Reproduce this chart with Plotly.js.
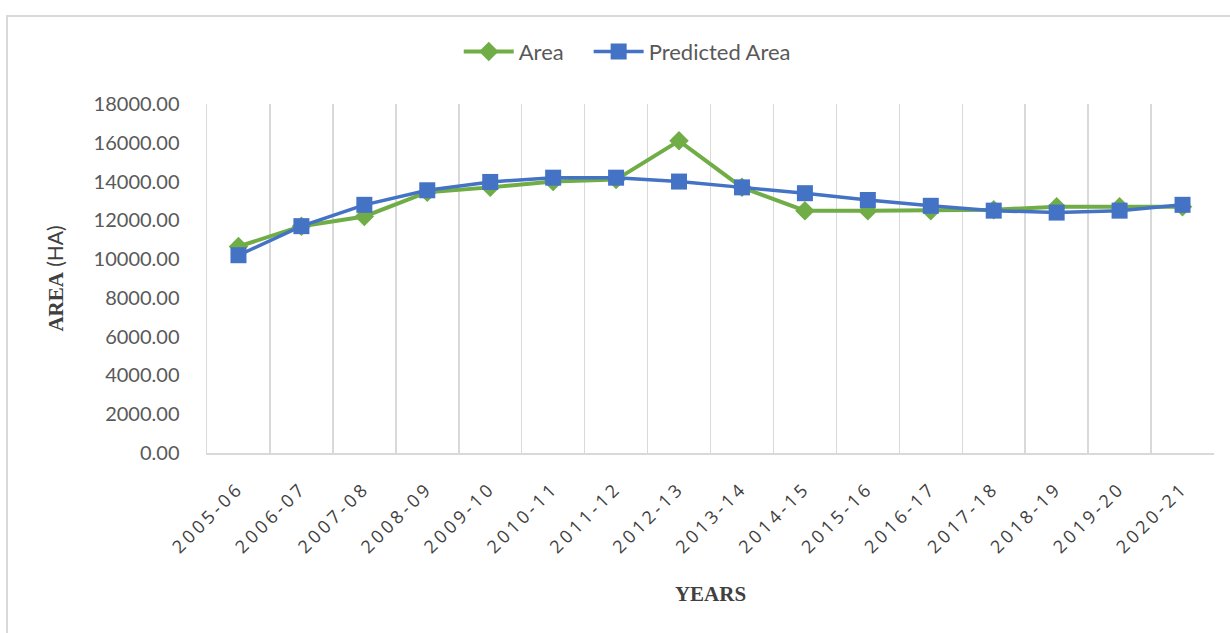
<!DOCTYPE html>
<html>
<head>
<meta charset="utf-8">
<script src="https://cdn.plot.ly/plotly-3.0.1.min.js"></script>
<style>
  html, body { margin: 0; padding: 0; background: #ffffff; overflow: hidden; }
  #frame { position: absolute; left: 6px; top: 15px; width: 1300px; height: 700px;
           border-left: 2px solid #d9d9d9; border-top: 2px solid #d9d9d9; box-sizing: border-box; }
  #chart { position: absolute; left: 0; top: 0; width: 1230px; height: 633px; }
  #chart .xtick text { letter-spacing: 3.5px; }
</style>
</head>
<body>
<div id="frame"></div>
<div id="chart"></div>
<script>
const years = ["2005-06","2006-07","2007-08","2008-09","2009-10","2010-11","2011-12","2012-13",
               "2013-14","2014-15","2015-16","2016-17","2017-18","2018-19","2019-20","2020-21"];
const area = [10650, 11700, 12200, 13450, 13700, 14000, 14100, 16100,
              13700, 12500, 12500, 12500, 12550, 12700, 12700, 12700];
const predictedArea = [10200, 11700, 12800, 13550, 13980, 14200, 14200, 14000,
                       13700, 13400, 13050, 12750, 12500, 12400, 12500, 12800];
const yTicks = [0, 2000, 4000, 6000, 8000, 10000, 12000, 14000, 16000, 18000];

const traces = [
  { x: years, y: area, name: "Area", type: "scatter", mode: "lines+markers", legend: "legend",
    line: { color: "#70AD47", width: 4 },
    marker: { symbol: "diamond", size: 15, color: "#70AD47" } },
  { x: years, y: predictedArea, name: "Predicted Area", type: "scatter", mode: "lines+markers", legend: "legend2",
    line: { color: "#4472C4", width: 3.5 },
    marker: { symbol: "square", size: 16, color: "#4472C4" } }
];

const legendFont = { size: 22, color: "#595959", family: "Lato, sans-serif" };

const layout = {
  width: 1230, height: 633,
  margin: { l: 207, r: 16, t: 104, b: 180 },
  paper_bgcolor: "rgba(0,0,0,0)", plot_bgcolor: "rgba(0,0,0,0)",
  font: { family: "Lato, 'Liberation Sans', sans-serif", color: "#595959" },
  showlegend: true,
  legend: { orientation: "h", x: 0.25, xanchor: "left", y: 1.15, yanchor: "middle",
            font: legendFont, itemwidth: 50 },
  legend2: { orientation: "h", x: 0.379, xanchor: "left", y: 1.15, yanchor: "middle",
             font: legendFont, itemwidth: 50 },
  xaxis: {
    type: "category", tickson: "boundaries", showgrid: true, gridcolor: "#d9d9d9", gridwidth: 1.5,
    showline: true, linecolor: "#d9d9d9", linewidth: 1.5, ticks: "", tickangle: -45,
    ticklabelstandoff: 16,
    tickfont: { family: "'Open Sans', sans-serif", size: 18, color: "#404040" },
    title: { text: "<b>YEARS</b>", font: { family: "'Liberation Serif', 'DejaVu Serif', serif", size: 21, color: "#404040" }, standoff: 46 },
    range: [-0.5, 15.5]
  },
  yaxis: {
    range: [0, 18000], tickvals: yTicks, tickformat: ".2f", showgrid: false, zeroline: false,
    showline: true, linecolor: "#d9d9d9", linewidth: 1.5, ticks: "", ticklabelstandoff: 22,
    tickfont: { family: "Lato, sans-serif", size: 20, color: "#595959" },
    title: { text: "<b>AREA</b> <span style='font-family:Lato, sans-serif; font-weight:normal'>(HA)</span>",
             font: { family: "'Liberation Serif', 'DejaVu Serif', serif", size: 21, color: "#404040" }, standoff: 24 }
  },
  yaxis2: {
    overlaying: "y", side: "right", range: [0, 18000], showgrid: false, zeroline: false,
    showline: true, linecolor: "#d9d9d9", linewidth: 1.5, ticks: "", showticklabels: false
  }
};

Plotly.newPlot("chart", traces, layout, { displayModeBar: false, staticPlot: true });
</script>
</body>
</html>
